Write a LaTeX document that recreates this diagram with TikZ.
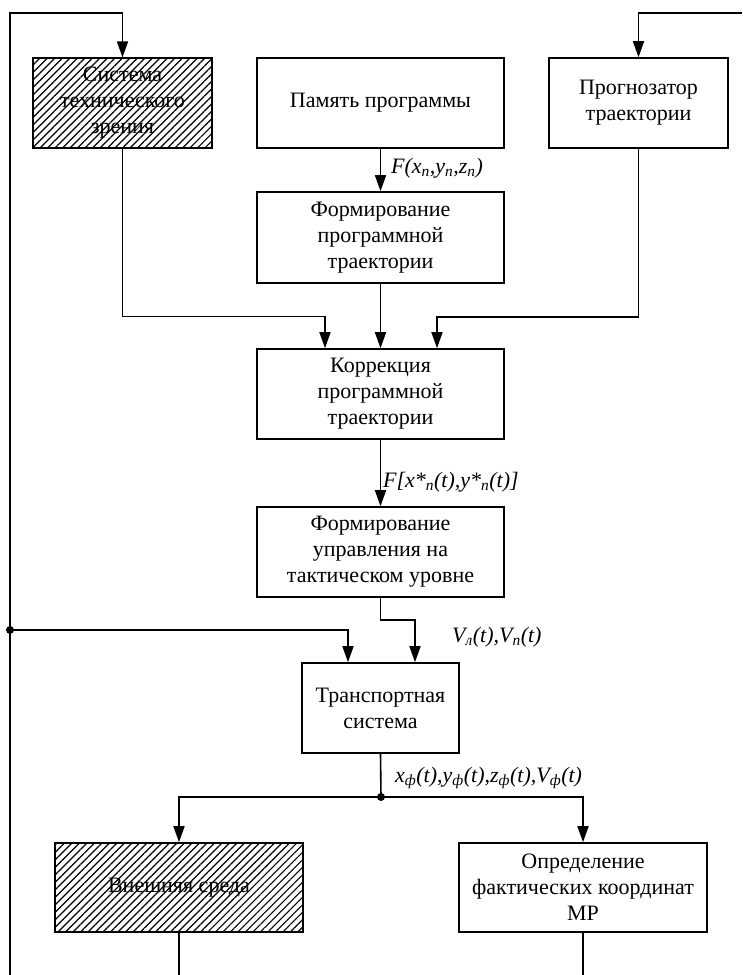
\documentclass[tikz,border=0pt]{standalone}
\usepackage{fontspec}
\setmainfont{Liberation Serif}
\usetikzlibrary{arrows.meta,patterns.meta}
\newcommand{\sbs}[1]{\textsubscript{#1}}
\tikzset{
  box/.style={draw, line width=1.6pt, align=center, inner sep=0pt,
    font=\fontsize{22}{26}\selectfont},
  hatched/.style={pattern={Lines[angle=45,distance=5.3pt,line width=1.2pt]}},
  conn/.style={line width=1.6pt},
  arr/.style={conn, -{Triangle[length=16pt,width=11pt]}},
  lbl/.style={inner sep=0pt, anchor=west, font=\fontsize{22}{26}\selectfont\itshape},
  dot/.style={circle, fill, inner sep=0pt, minimum size=8pt}
}
\begin{document}
\begin{tikzpicture}[x=1pt,y=-1pt]
\useasboundingbox (0,0) rectangle (742,975);
% boxes
\node[box, hatched, minimum width=179pt, minimum height=90pt] (sys) at (122.5,103) {Система\\технического\\зрения};
\node[box, minimum width=247pt, minimum height=90pt] (mem) at (380.5,103) {Память программы};
\node[box, minimum width=179pt, minimum height=90pt] (prog) at (638.5,103) {Прогнозатор\\траектории};
\node[box, minimum width=247pt, minimum height=91pt] (form) at (380.5,237.5) {Формирование\\программной\\траектории};
\node[box, minimum width=247pt, minimum height=90pt] (corr) at (380.5,394) {Коррекция\\программной\\траектории};
\node[box, minimum width=247pt, minimum height=90pt] (ctrl) at (380.5,552) {Формирование\\управления на\\тактическом уровне};
\node[box, minimum width=157pt, minimum height=90pt] (trans) at (380.5,708) {Транспортная\\система};
\node[box, hatched, minimum width=248pt, minimum height=89pt] (env) at (179,887.5) {Внешняя среда};
\node[box, minimum width=248pt, minimum height=89pt] (det) at (583,887.5) {Определение\\фактических координат\\МР};
% coordinates
\coordinate (lb) at (10,975);
\coordinate (lt) at (10,13);
\coordinate (rt) at (742,13);
\node[dot] (j1) at (10,630) {};
\node[dot] (j2) at (381,797) {};
\coordinate (eb) at (179,975);
\coordinate (db) at (583,975);
% connectors
\draw[arr] (lb) -- (lt) -| (sys.north);
\draw[arr] (rt) -| (prog.north);
\draw[arr] (mem.south) -- (form.north);
\draw[arr] (sys.south) -- ++(0,168) -| ([xshift=-55.5pt]corr.north);
\draw[arr] (prog.south) -- ++(0,168) -| ([xshift=56.5pt]corr.north);
\draw[arr] (form.south) -- (corr.north);
\draw[arr] (corr.south) -- (ctrl.north);
\draw[arr] (ctrl.south) -- ++(0,22) -| ([xshift=34.5pt]trans.north);
\draw[arr] (j1.center) -| ([xshift=-32.5pt]trans.north);
\draw[conn] (trans.south) -- (j2.center);
\draw[arr] (j2.center) -| (env.north);
\draw[arr] (j2.center) -| (det.north);
\draw[conn] (env.south) -- (eb);
\draw[conn] (det.south) -- (db);
% labels
\node[lbl] (l1) at (391,168) {F(x\sbs{п},y\sbs{п},z\sbs{п})};
\node[lbl] (l2) at (383,482) {F[x*\sbs{п}(t),y*\sbs{п}(t)]};
\node[lbl] (l3) at (452,637) {V\sbs{л}(t),V\sbs{п}(t)};
\node[lbl] (l4) at (395,778) {x\sbs{ф}(t),y\sbs{ф}(t),z\sbs{ф}(t),V\sbs{ф}(t)};
\end{tikzpicture}
\end{document}
